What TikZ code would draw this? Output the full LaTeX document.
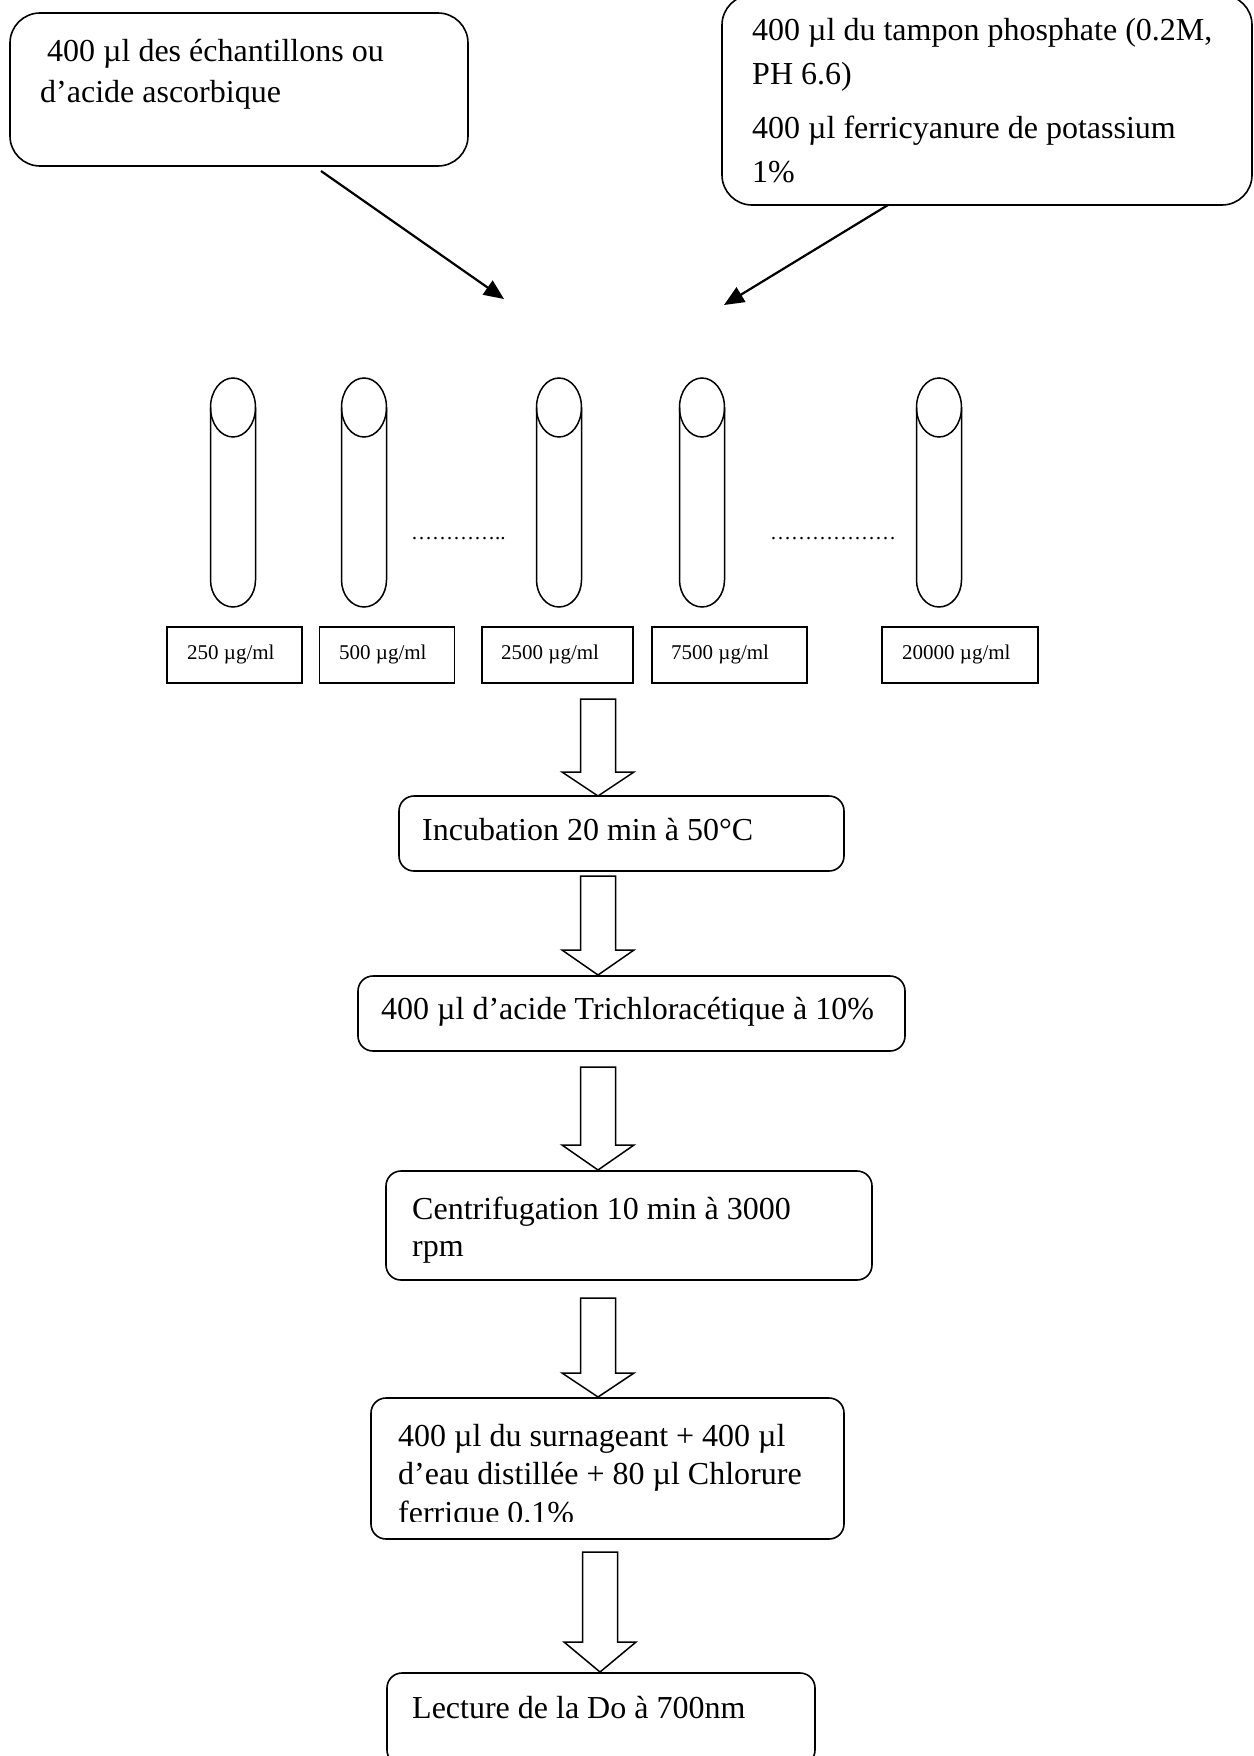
\documentclass[tikz,border=0pt]{standalone}
\usepackage{fontspec}
\setmainfont{Liberation Serif}
\usetikzlibrary{arrows.meta}
\newcommand\hollowarrow[4]{%
  \draw[hollow] ({#1-17.5},#2) -- ({#1+17.5},#2) -- ({#1+17.5},#3) -- ({#1+36},#3)
    -- (#1,#4) -- ({#1-36},#3) -- ({#1-17.5},#3) -- cycle;}
\newcommand\testtube[1]{%
  \draw[tube] ({#1-22.5},407.5) -- ({#1-22.5},580)
    arc[start angle=180, end angle=360, x radius=22.5pt, y radius=27pt]
    -- ({#1+22.5},407.5);
  \draw[tube] (#1,407.5) ellipse [x radius=22.5pt, y radius=29.5pt];}
\begin{document}
\begin{tikzpicture}[x=1pt,y=-1pt,
  rbox/.style={draw, line width=1.6pt, rounded corners=30pt, inner sep=0pt},
  fbox/.style={draw, line width=1.6pt, rounded corners=15pt, inner sep=0pt},
  cbox/.style={draw, line width=1.4pt, inner sep=0pt},
  txt/.style={anchor=base west, inner sep=0pt, font=\fontsize{32}{37}\selectfont},
  ctxt/.style={anchor=base west, inner sep=0pt, font=\fontsize{21}{25}\selectfont},
  tube/.style={line width=1.5pt},
  slant/.style={line width=2.2pt, -{Triangle[length=20pt,width=17pt]}},
  hollow/.style={line width=1.5pt, fill=white, line join=miter}
]
\useasboundingbox (0,0) rectangle (1253,1756);
\clip (0,0) rectangle (1253,1756);
\fill[white] (0,0) rectangle (1253,1756);

% top boxes
\node[rbox, minimum width=458pt, minimum height=153pt] (b1) at (239,89.5) {};
\node[txt] (t1a) at (47,61) {400 µl des échantillons ou};
\node[txt] (t1b) at (40,102) {d’acide ascorbique};

\node[rbox, minimum width=530pt, minimum height=210pt] (b2) at (987,100) {};
\node[txt] (t2a) at (752,40) {400 µl du tampon phosphate (0.2M,};
\node[txt] (t2b) at (752,84) {PH 6.6)};
\node[txt] (t2c) at (752,138) {400 µl ferricyanure de potassium};
\node[txt] (t2d) at (752,182) {1\%};

% slanted arrows
\coordinate (s1) at (321,171);
\coordinate (e1) at (504,299);
\coordinate (s2) at (888,205);
\coordinate (e2) at (724,305);
\draw[slant] (s1) -- (e1);
\draw[slant] (s2) -- (e2);

% tubes
\testtube{233}
\testtube{364}
\testtube{559}
\testtube{702}
\testtube{939}
\node[ctxt] (d1) at (411,539) {…………..};
\node[ctxt] (d2) at (770,539) {………………};

% concentration boxes
\node[cbox, minimum width=135pt, minimum height=56pt] (c1) at (234.5,655) {};
\node[cbox, minimum width=135pt, minimum height=56pt] (c2) at (387,655) {};
\node[cbox, minimum width=151pt, minimum height=56pt] (c3) at (557.5,655) {};
\node[cbox, minimum width=155pt, minimum height=56pt] (c4) at (729.5,655) {};
\node[cbox, minimum width=156pt, minimum height=56pt] (c5) at (960,655) {};
\node[ctxt] (ct1) at (187,659) {250 µg/ml};
\node[ctxt] (ct2) at (339,659) {500 µg/ml};
\node[ctxt] (ct3) at (501,659) {2500 µg/ml};
\node[ctxt] (ct4) at (671,659) {7500 µg/ml};
\node[ctxt] (ct5) at (902,659) {20000 µg/ml};

% flow
\hollowarrow{598}{699}{772}{796}
\node[fbox, minimum width=445pt, minimum height=75pt] (b3) at (621.5,833.5) {};
\node[txt] (t3) at (422,840) {Incubation 20 min à 50°C};

\hollowarrow{598}{876}{950}{975}
\node[fbox, minimum width=547pt, minimum height=75pt] (b4) at (631.5,1013.5) {};
\node[txt] (t4) at (381,1019) {400 µl d’acide Trichloracétique à 10\%};

\hollowarrow{598}{1067}{1145}{1170}
\node[fbox, minimum width=486pt, minimum height=109pt] (b5) at (629,1225.5) {};
\node[txt] (t5a) at (412,1219) {Centrifugation 10 min à 3000};
\node[txt] (t5b) at (412,1256) {rpm};

\hollowarrow{598}{1298}{1373}{1397}
\node[fbox, minimum width=473pt, minimum height=141pt] (b6) at (607.5,1468.5) {};
\node[txt] (t6a) at (398,1446) {400 µl du surnageant + 400 µl};
\node[txt] (t6b) at (398,1484) {d’eau distillée + 80 µl Chlorure};
\begin{scope}
\clip (380,1490) rectangle (840,1521);
\node[txt] (t6c) at (398,1523) {ferrique 0.1\%};
\end{scope}

\hollowarrow{600}{1552}{1642}{1672}
\node[fbox, minimum width=428pt, minimum height=92pt] (b7) at (601,1719) {};
\node[txt] (t7) at (412,1718) {Lecture de la Do à 700nm};
\end{tikzpicture}
\end{document}
